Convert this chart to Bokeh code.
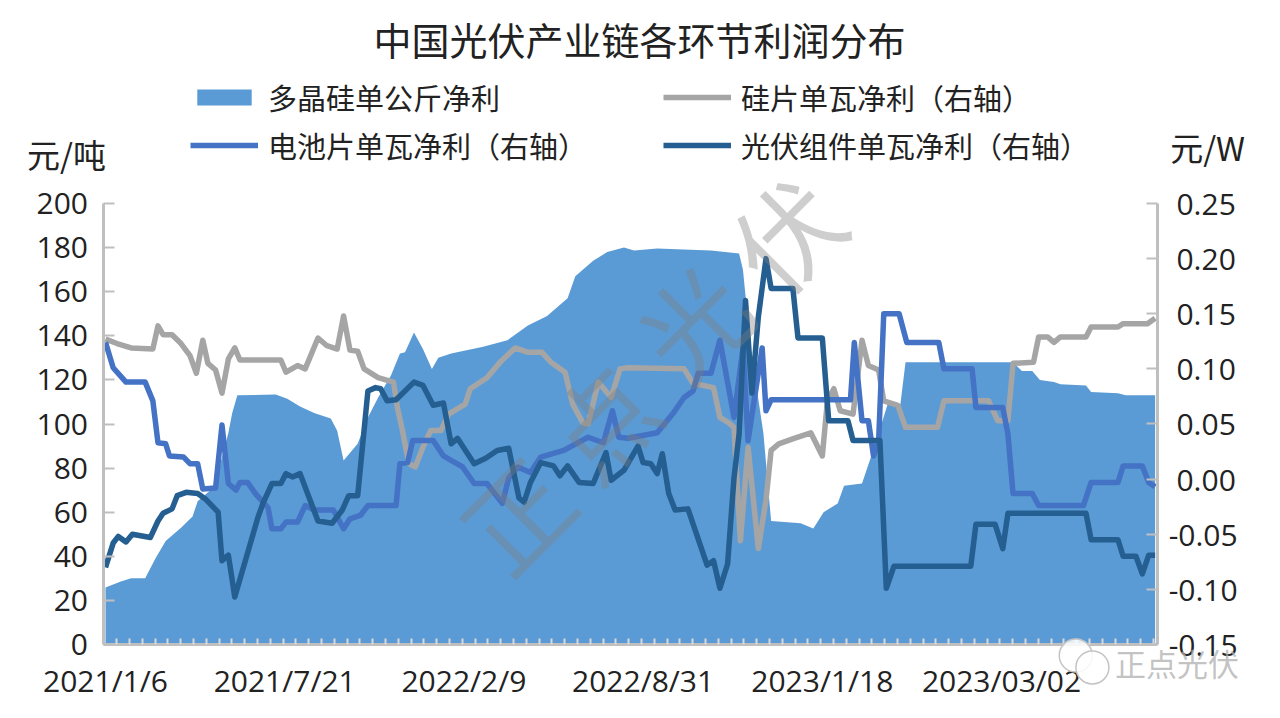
from bokeh.plotting import figure
from bokeh.embed import file_html
from bokeh.resources import INLINE
from bokeh.models import Range1d, LinearAxis, FixedTicker, Legend, LegendItem, Label, Title

# x is the position along the date axis, in axis tick steps from 2021/1/6
poly_x = [0,1.2,2,3.1,3.9,4.7,5.9,6.8,7.2,8.6,9.1,9.6,9.9,10.3,13.3,14.2,15.2,16.3,17.6,18.1,18.6,19.7,20.5,21.3,22.3,23,23.4,24.1,24.8,25.5,26,27,29.5,31.4,33,34.5,36.1,36.7,38.1,39.2,40.5,41.3,43.1,47.3,49.5,49.8,50.4,51.4,52,54.3,55.3,56.1,57.2,57.7,59.1,59.8,60.4,61.1,62.1,62.5,70.9,71.6,72.4,73,74.1,74.6,76.6,77,79.1,79.7,82]
poly_y = [25.9,28.6,30,30,39,47,53,58,65,72,85,96,105,113,113.4,111.5,108,105,102.5,97,83.4,91,103,112,122,132,132.5,141.5,134,125,130,132,135,138,144.7,149,157,167,174,178,180,178.7,179.6,178.7,177.3,170,134.7,95.7,56,55,52.6,60,64,72,73,85,95.7,109,109,128,128,124,124,120,119,118,117.5,114.5,114,113,113]

wafer_x = [0,0.9,2,3.7,4.1,4.5,5.2,5.9,6.6,7.1,7.6,8,8.6,9.1,9.6,10.1,10.5,13.7,14.1,15,15.6,16.6,17.3,18.1,18.6,19.1,19.7,20.2,21.3,22.5,22.8,23.2,23.7,24.2,24.8,25.4,26.2,26.8,28.1,28.5,29.8,30.9,32,33,34.1,34.8,35.9,36.5,37.3,37.7,38.5,39.5,40.2,40.8,45.2,45.9,47.5,48,48.7,49.1,49.6,50.2,51,51.6,52,52.6,53.8,55.1,56,56.4,56.9,57.4,58.4,59.1,59.6,60.4,60.8,61.9,62.5,65,65.5,69,69.7,70.5,70.9,72.5,72.9,73.6,74.1,74.6,76.6,77,79.1,79.5,81.4,82]
wafer_y = [.127,.123,.119,.118,.139,.131,.131,.123,.112,.096,.126,.105,.099,.078,.109,.119,.108,.108,.097,.103,.100,.128,.121,.118,.148,.117,.116,.100,.092,.088,.065,.044,.014,.011,.029,.044,.044,.059,.068,.082,.092,.107,.119,.115,.115,.106,.097,.068,.051,.050,.088,.074,.100,.101,.100,.087,.083,.056,.051,.047,-.056,.029,-.063,-.019,.026,.032,.037,.042,.021,.071,.082,.062,.059,.126,.103,.099,.071,.067,.047,.047,.071,.071,.053,.053,.105,.106,.129,.129,.124,.129,.129,.138,.138,.141,.141,.146]

cell_x = [0,0.6,1.6,3.1,3.7,4.1,4.7,5,6.1,6.6,7.2,7.6,8.6,9.1,9.6,10.2,10.5,11.1,11.7,12.7,13,13.7,14.1,15,15.6,16.3,17.8,18.6,19.1,19.9,20.5,22.7,23,23.6,24,25.6,26.4,27,27.9,28.8,29.8,31,31.5,32.2,33.2,34,35.8,37.7,38.9,39.6,40.1,40.8,43.1,44.3,45.2,45.9,46.3,47.3,48,49.1,49.8,50.2,51.3,51.6,52,58.2,58.5,59.1,59.6,60,60.4,60.8,62,62.6,65.1,65.5,67.7,68,70.1,70.5,70.9,72.4,72.9,76.4,77,79.1,79.5,81,81.5,82]
cell_y = [.124,.101,.088,.088,.071,.033,.032,.021,.020,.014,.014,-.009,-.008,.049,-.004,-.010,-.003,-.003,-.013,-.026,-.045,-.045,-.039,-.039,-.024,-.028,-.028,-.045,-.036,-.033,-.024,-.024,.014,.015,.035,.035,.021,.017,.011,-.004,-.004,-.022,.001,.011,.006,.020,.026,.038,.033,.062,.038,.037,.042,.059,.074,.080,.096,.096,.126,.056,.119,.035,.119,.062,.072,.072,.124,.053,.053,.021,.035,.150,.150,.124,.124,.100,.100,.065,.065,.041,-.013,-.013,-.024,-.024,-.003,-.003,.012,.012,-.003,-.007]

module_x = [0,0.6,1,1.6,2.1,3.5,4.1,4.5,5.2,5.6,6.3,7.2,7.8,8.8,9.1,9.6,10.1,11.1,11.9,12.3,13,13.7,14.1,14.6,15.2,16.6,17.7,18.5,19,19.7,20.5,21.1,21.5,22,22.7,24.1,24.8,25.6,26.4,27,27.5,28.8,29.7,30.6,31.5,32.3,32.7,33.2,34,35,35.5,36.1,37,38.1,39.1,39.5,40.5,41.6,42,42.6,43.1,43.5,44,44.5,45.5,47,47.5,48,48.6,49.1,49.5,50,50.5,51,51.6,52,53.7,54.1,56,56.5,58,58.4,60.5,61,61.6,67.6,68,69.5,70.1,70.5,76.6,77,79.1,79.5,80.5,81,81.5,82]
module_y = [-.080,-.058,-.052,-.057,-.050,-.053,-.038,-.031,-.027,-.015,-.012,-.013,-.018,-.030,-.074,-.069,-.107,-.067,-.035,-.022,-.004,-.004,.005,.002,.005,-.038,-.040,-.028,-.015,-.015,.080,.083,.082,.071,.072,.088,.085,.067,.069,.032,.037,.014,.019,.026,.028,-.017,-.021,-.003,.015,.012,.003,.012,-.003,-.004,.024,-.001,.008,.030,.015,.014,.005,.023,-.013,-.028,-.027,-.078,-.074,-.099,-.077,.001,.041,.162,.078,.147,.200,.173,.173,.128,.128,.053,.053,.035,.035,-.099,-.079,-.079,-.041,-.041,-.063,-.031,-.031,-.055,-.055,-.070,-.070,-.086,-.069,-.069]

x_tick_pos = [0,14,28,42,56,70]
x_tick_labels = ["2021/1/6","2021/7/21","2022/2/9","2022/8/31","2023/1/18","2023/03/02"]
left_ticks = [0,20,40,60,80,100,120,140,160,180,200]
right_ticks = [-0.15,-0.10,-0.05,0.0,0.05,0.10,0.15,0.20,0.25]
right_labels = ["-0.15","-0.10","-0.05","\u00a00.00","\u00a00.05","\u00a00.10","\u00a00.15","\u00a00.20","\u00a00.25"]

names = ["多晶硅单公斤净利","电池片单瓦净利（右轴）","硅片单瓦净利（右轴）","光伏组件单瓦净利（右轴）"]
title_text = "中国光伏产业链各环节利润分布"

CJK = "Noto Sans CJK SC"
NUM = "Open Sans"
INK = "#222222"
GRID = "#BFBFBF"
X_LEFT, X_RIGHT = -0.12, 82.2

# The frame fills the canvas below the title so the legend and unit labels outside
# the axes are not clipped; the axes are pinned at their places inside it.
p = figure(width=1272, height=710, output_backend="svg", toolbar_location=None,
           x_range=Range1d(-8.203, 91.17), y_range=Range1d(-29.93, 262.6),
           min_border_left=0, min_border_right=0, min_border_top=65, min_border_bottom=0,
           outline_line_color=None, background_fill_color="white")
p.grid.visible = False
p.extra_y_ranges = {"right": Range1d(-0.2099, 0.3752)}

p.title = Title(text=title_text, align="left", offset=373, standoff=0,
                text_font=CJK, text_font_size="38px", text_font_style="normal", text_color=INK)

area = p.varea(poly_x, y1=[0]*len(poly_x), y2=poly_y, fill_color="#5B9BD5")
gray = p.line(wafer_x, wafer_y, y_range_name="right", line_color="#A5A5A5", line_width=5.5, line_join="round")
blue = p.line(cell_x, cell_y, y_range_name="right", line_color="#4472C4", line_width=5.5, line_join="round")
dark = p.line(module_x, module_y, y_range_name="right", line_color="#255E91", line_width=5.5, line_join="round")

# axes
xa = p.xaxis[0]
xa.fixed_location = 0
xa.bounds = (X_LEFT, X_RIGHT)
xa.ticker = FixedTicker(ticks=x_tick_pos, minor_ticks=[i - 0.12 for i in range(1, 83)])
xa.major_label_overrides = dict(zip(x_tick_pos, x_tick_labels))
xa.major_tick_in = 0; xa.major_tick_out = 0
xa.minor_tick_in = 6; xa.minor_tick_out = 0
xa.minor_tick_line_color = "#D9D9D9"; xa.minor_tick_line_width = 2
xa.axis_line_color = GRID; xa.axis_line_width = 3
xa.major_label_standoff = 15
xa.major_label_text_font = NUM; xa.major_label_text_font_size = "30px"; xa.major_label_text_color = INK

ya = p.yaxis[0]
ya.fixed_location = X_LEFT
ya.bounds = (0, 200)
ya.ticker = FixedTicker(ticks=left_ticks)
ya.major_tick_in = 11; ya.major_tick_out = 0; ya.minor_tick_in = 0; ya.minor_tick_out = 0
ya.major_tick_line_color = GRID; ya.major_tick_line_width = 2
ya.axis_line_color = GRID; ya.axis_line_width = 3
ya.major_label_standoff = 16
ya.major_label_text_font = NUM; ya.major_label_text_font_size = "30px"; ya.major_label_text_color = INK

ra = LinearAxis(y_range_name="right", ticker=FixedTicker(ticks=right_ticks), fixed_location=X_RIGHT, bounds=(-0.15, 0.25))
ra.major_label_overrides = dict(zip(right_ticks, right_labels))
ra.major_tick_in = 11; ra.major_tick_out = 0; ra.minor_tick_in = 0; ra.minor_tick_out = 0
ra.major_tick_line_color = GRID; ra.major_tick_line_width = 2
ra.axis_line_color = GRID; ra.axis_line_width = 3
ra.major_label_standoff = 11
ra.major_label_text_font = NUM; ra.major_label_text_font_size = "30px"; ra.major_label_text_color = INK
p.add_layout(ra, "right")

legend = Legend(items=[LegendItem(label=names[0], renderers=[area]),
                       LegendItem(label=names[1], renderers=[blue]),
                       LegendItem(label=names[2], renderers=[gray]),
                       LegendItem(label=names[3], renderers=[dark])],
                ncols=2, location=(190, 544), orientation="vertical",
                glyph_width=68, glyph_height=20, label_standoff=10,
                label_width=389, label_height=30, spacing=6, padding=0, margin=0,
                border_line_color=None, background_fill_alpha=0,
                label_text_font=CJK, label_text_font_size="29px", label_text_color=INK)
p.add_layout(legend, "center")

# unit labels
p.add_layout(Label(x=-3.05, y=222.3, text="元/吨", text_font=CJK, text_font_size="33px", text_color=INK,
                   text_align="center", text_baseline="middle"))
p.add_layout(Label(x=86.1, y=225.5, text="元/W", text_font=CJK, text_font_size="33px", text_color=INK,
                   text_align="center", text_baseline="middle"))

# image watermark
for ch, wx, wy in [("正", 31.9, 60), ("点", 38.6, 102), ("光", 45.7, 147), ("伏", 53, 187)]:
    p.add_layout(Label(x=wx, y=wy, text=ch, text_font=CJK, text_font_size="105px", angle=45, angle_units="deg",
                       text_color="#7F7F7F", text_alpha=0.38, text_align="center", text_baseline="middle"))
p.scatter([75.8, 77.1], [-5, -10.4], size=33, marker="circle", fill_color="white", fill_alpha=0.85,
          line_color="#C4C4C4", line_width=1.5, level="overlay")
p.add_layout(Label(x=83.7, y=-8, text="正点光伏", text_font=CJK, text_font_size="31px",
                   text_color="#B0B0B0", text_alpha=0.75, text_align="center", text_baseline="middle"))

open("out.html", "w").write(file_html(p, INLINE))
